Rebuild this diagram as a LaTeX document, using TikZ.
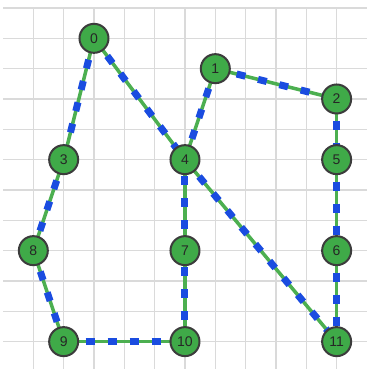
\documentclass[tikz,border=0pt]{standalone}
\usepackage{fontspec}
\setmainfont{Liberation Sans}
\usetikzlibrary{backgrounds}
\pgfdeclarelayer{gridlayer}
\pgfdeclarelayer{edgelayer}
\pgfsetlayers{gridlayer,edgelayer,main}

\definecolor{gridgray}{HTML}{DADADA}
\definecolor{edgegreen}{HTML}{4CAF50}
\definecolor{nodegreen}{HTML}{3FAA48}
\definecolor{nodeborder}{HTML}{3C3C3C}
\definecolor{dashblue}{HTML}{1A4CE0}

\tikzset{
  vertex/.style={circle, draw=nodeborder, line width=2pt, fill=nodegreen,
    minimum size=29pt, inner sep=0pt, text=black!85,
    font=\fontsize{14}{14}\selectfont},
  link/.style={draw=edgegreen, line width=3.5pt,
    postaction={draw=dashblue, line width=7pt, dash pattern=on 9pt off 13pt}},
  gridline/.style={draw=gridgray, line width=1.2pt}
}

\begin{document}
\begin{tikzpicture}[x=1pt, y=-1pt]
  \useasboundingbox (0,0) rectangle (367,369);

  % grid cell size and origin
  \def\g{30.33}
  \def\ox{3}
  \def\oy{8}

  \begin{pgfonlayer}{gridlayer}
    \fill[white] (0,0) rectangle (367,369);
    \foreach \i in {1,...,11}
      \draw[gridline] ({\ox+\g*\i},\oy) -- ({\ox+\g*\i},369);
    \foreach \j in {0,...,11}
      \draw[gridline] (\ox,{\oy+\g*\j}) -- (367,{\oy+\g*\j});
  \end{pgfonlayer}

  % vertices on grid points
  \node[vertex] (n0)  at ({\ox+\g*3},{\oy+\g*1}) {0};
  \node[vertex] (n1)  at ({\ox+\g*7},{\oy+\g*2}) {1};
  \node[vertex] (n2)  at ({\ox+\g*11},{\oy+\g*3}) {2};
  \node[vertex] (n3)  at ({\ox+\g*2},{\oy+\g*5}) {3};
  \node[vertex] (n4)  at ({\ox+\g*6},{\oy+\g*5}) {4};
  \node[vertex] (n5)  at ({\ox+\g*11},{\oy+\g*5}) {5};
  \node[vertex] (n8)  at ({\ox+\g*1},{\oy+\g*8}) {8};
  \node[vertex] (n7)  at ({\ox+\g*6},{\oy+\g*8}) {7};
  \node[vertex] (n6)  at ({\ox+\g*11},{\oy+\g*8}) {6};
  \node[vertex] (n9)  at ({\ox+\g*2},{\oy+\g*11}) {9};
  \node[vertex] (n10) at ({\ox+\g*6},{\oy+\g*11}) {10};
  \node[vertex] (n11) at ({\ox+\g*11},{\oy+\g*11}) {11};

  \begin{pgfonlayer}{edgelayer}
    \foreach \a/\b in {n0/n3, n0/n4, n3/n8, n8/n9, n9/n10, n10/n7, n7/n4,
                       n4/n1, n1/n2, n2/n5, n5/n6, n6/n11, n4/n11}
      \path[link] (\a.center) -- (\b.center);
  \end{pgfonlayer}
\end{tikzpicture}
\end{document}
